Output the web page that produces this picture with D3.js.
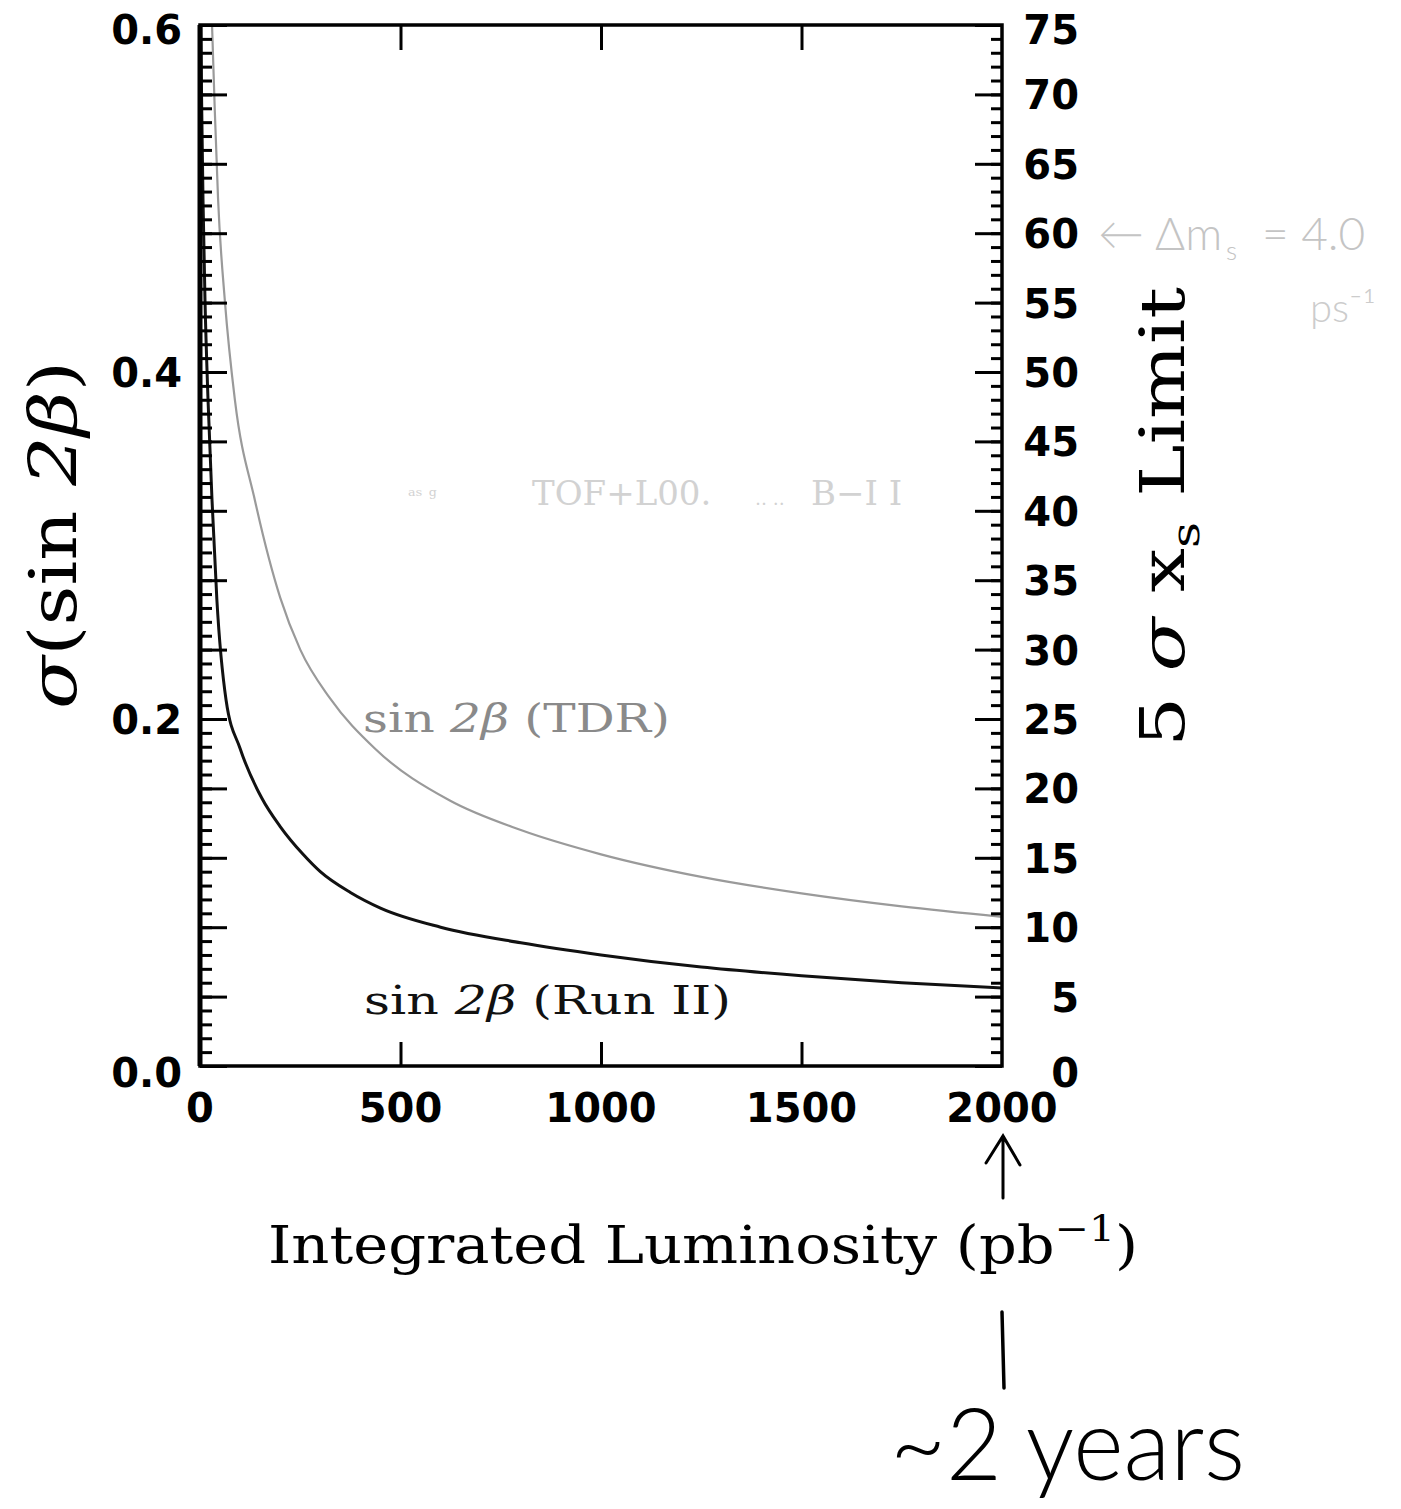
<!DOCTYPE html>
<html><head><meta charset="utf-8">
<script src="https://cdn.jsdelivr.net/npm/d3@7"></script>
<style>body{margin:0;background:#fff}</style>
</head><body>
<svg id="c" width="1401" height="1509"></svg>
<script>
// ---- data ----
const xTickValues = [0, 500, 1000, 1500, 2000];
const xTickLabels = ["0", "500", "1000", "1500", "2000"];
const leftTickValues = [0, 0.2, 0.4, 0.6];
const leftTickLabels = ["0.0", "0.2", "0.4", "0.6"];
const rightTickValues = [0, 5, 10, 15, 20, 25, 30, 35, 40, 45, 50, 55, 60, 65, 70, 75];
const rightTickLabels = ["0", "5", "10", "15", "20", "25", "30", "35", "40", "45", "50", "55", "60", "65", "70", "75"];

const lumRunII   = [2, 4, 7.5, 12.5, 20, 30, 42, 65, 100, 155, 200, 257, 300, 375, 450, 600, 800, 1000, 1250, 1500, 1750, 2000];
const sigmaRunII = [0.60, 0.557, 0.499, 0.441, 0.384, 0.326, 0.269, 0.211, 0.183, 0.154, 0.138, 0.122, 0.112, 0.100, 0.091, 0.080, 0.071, 0.064, 0.057, 0.052, 0.048, 0.045];

const lumTDR   = [30, 37, 45, 62, 87, 137, 200, 250, 324, 436, 623, 800, 1000, 1250, 1500, 1750, 2000];
const sigmaTDR = [0.60, 0.55, 0.50, 0.441, 0.384, 0.326, 0.270, 0.240, 0.212, 0.183, 0.153, 0.136, 0.122, 0.109, 0.0995, 0.092, 0.086];

// ---- layout ----
const svg = d3.select("#c");
const L = 200, R = 1002, T = 25, B = 1066;
const x = d3.scaleLinear().domain([0, 2000]).range([L, R]);
const y = d3.scaleLinear().domain([0, 0.6]).range([B, T]);
const yR = d3.scaleLinear().domain([0, 75]).range([B, T]);

const tickFont = "'DejaVu Sans', sans-serif";
const serif = "'DejaVu Serif', serif";

svg.append("defs").append("clipPath").attr("id", "clip")
  .append("rect").attr("x", L).attr("y", T).attr("width", R - L).attr("height", B - T);

// curves
const line = d3.line().x(d => x(d[0])).y(d => y(d[1])).curve(d3.curveMonotoneX);
svg.append("path").datum(lumTDR.map((l, i) => [l, sigmaTDR[i]]))
  .attr("d", line).attr("fill", "none").attr("stroke", "#9a9a9a").attr("stroke-width", 2.2)
  .attr("clip-path", "url(#clip)");
svg.append("path").datum(lumRunII.map((l, i) => [l, sigmaRunII[i]]))
  .attr("d", line).attr("fill", "none").attr("stroke", "#111").attr("stroke-width", 3)
  .attr("clip-path", "url(#clip)");

function styleTicks(g, w) {
  g.select(".domain").remove();
  g.selectAll("line").attr("stroke", "#000").attr("stroke-width", w);
  g.selectAll("text").remove();
}
const leftMinor = d3.range(0, 76).map(i => i * 0.008);
const leftMajor = d3.range(0, 16).map(i => i * 0.04);
svg.append("g").attr("transform", `translate(${L},0)`)
  .call(d3.axisRight(y).tickValues(leftMinor).tickSize(12).tickFormat(""))
  .call(g => styleTicks(g, 3));
svg.append("g").attr("transform", `translate(${L},0)`)
  .call(d3.axisRight(y).tickValues(leftMajor).tickSize(27).tickFormat(""))
  .call(g => styleTicks(g, 3));
svg.append("g").attr("transform", `translate(${R},0)`)
  .call(d3.axisLeft(yR).tickValues(d3.range(0, 76)).tickSize(11).tickFormat(""))
  .call(g => styleTicks(g, 3));
svg.append("g").attr("transform", `translate(${R},0)`)
  .call(d3.axisLeft(yR).tickValues(rightTickValues).tickSize(27).tickFormat(""))
  .call(g => styleTicks(g, 3));
svg.append("g").attr("transform", `translate(0,${B})`)
  .call(d3.axisTop(x).tickValues([500, 1000, 1500]).tickSize(24).tickFormat(""))
  .call(g => styleTicks(g, 3));
svg.append("g").attr("transform", `translate(0,${T})`)
  .call(d3.axisBottom(x).tickValues([500, 1000, 1500]).tickSize(25).tickFormat(""))
  .call(g => styleTicks(g, 3));

// frame
svg.append("rect").attr("x", L).attr("y", T).attr("width", R - L).attr("height", B - T)
  .attr("fill", "none").attr("stroke", "#000").attr("stroke-width", 3.5);
svg.append("line").attr("x1", L).attr("x2", L).attr("y1", T).attr("y2", B)
  .attr("stroke", "#000").attr("stroke-width", 5);

// tick labels
const lab = svg.append("g").attr("font-family", tickFont).attr("font-weight", "bold").attr("font-size", 40).attr("fill", "#000");
leftTickValues.forEach((v, i) => {
  lab.append("text").attr("x", L - 18).attr("y", y(v) + 15 + (v === 0 ? 6 : 0) + (v === 0.6 ? 4 : 0))
    .attr("text-anchor", "end").text(leftTickLabels[i]);
});
rightTickValues.forEach((v, i) => {
  lab.append("text").attr("x", 1079).attr("y", yR(v) + 15 + (v === 0 ? 6 : 0) + (v === 75 ? 4 : 0))
    .attr("text-anchor", "end").text(rightTickLabels[i]);
});
xTickValues.forEach((v, i) => {
  lab.append("text").attr("x", x(v)).attr("y", 1122)
    .attr("text-anchor", "middle").text(xTickLabels[i]);
});

// axis titles
const yl = svg.append("text").attr("transform", "translate(76,535) rotate(-90)")
  .attr("text-anchor", "middle").attr("font-family", serif).attr("font-size", 66)
  .attr("textLength", 348).attr("lengthAdjust", "spacingAndGlyphs");
yl.append("tspan").attr("font-style", "italic").text("σ");
yl.append("tspan").text("(sin ");
yl.append("tspan").attr("font-style", "italic").text("2β");
yl.append("tspan").text(")");

const yr = svg.append("text").attr("transform", "translate(1184,517) rotate(-90)")
  .attr("text-anchor", "middle").attr("font-family", serif).attr("font-size", 62)
  .attr("textLength", 460).attr("lengthAdjust", "spacingAndGlyphs");
yr.append("tspan").text("5 ");
yr.append("tspan").attr("font-style", "italic").text("σ");
yr.append("tspan").text(" x");
yr.append("tspan").attr("font-size", 40).attr("dy", 15).text("s");
yr.append("tspan").attr("dy", -15).text(" Limit");

const xl = svg.append("text").attr("x", 268).attr("y", 1263)
  .attr("font-family", serif).attr("font-size", 52)
  .attr("textLength", 870).attr("lengthAdjust", "spacingAndGlyphs");
xl.append("tspan").text("Integrated Luminosity (pb");
xl.append("tspan").attr("font-size", 36).attr("dy", -22).text("−1");
xl.append("tspan").attr("dy", 22).text(")");

// curve labels
function curveLabel(xp, yp, tail, color, len) {
  const t = svg.append("text").attr("x", xp).attr("y", yp).attr("font-family", serif)
    .attr("font-size", 40).attr("fill", color)
    .attr("textLength", len).attr("lengthAdjust", "spacingAndGlyphs");
  t.append("tspan").text("sin ");
  t.append("tspan").attr("font-style", "italic").text("2β");
  t.append("tspan").text(" " + tail);
}
curveLabel(363, 732, "(TDR)", "#8a8a8a", 307);
curveLabel(364, 1014, "(Run II)", "#111", 367);

// faint text in middle
const ft = svg.append("g").attr("font-family", serif).attr("font-size", 34).attr("fill", "#d2d2d2");
ft.append("text").attr("x", 408).attr("y", 503).attr("font-size", 20).text("ᵃˢ ᵍ");
ft.append("text").attr("x", 532).attr("y", 505).text("TOF+L00.");
ft.append("text").attr("x", 755).attr("y", 505).attr("font-size", 18).text("‥ ‥");
ft.append("text").attr("x", 811).attr("y", 505).text("B−I I");

// handwritten annotations
const hw = "'Lato', 'DejaVu Sans', sans-serif";
svg.append("text").attr("x", 1098).attr("y", 250).attr("font-family", hw).attr("font-weight", 300)
  .attr("font-size", 46).attr("fill", "#c4c4c4").text("← Δm");
svg.append("text").attr("x", 1226).attr("y", 260).attr("font-family", hw).attr("font-weight", 300)
  .attr("font-size", 26).attr("fill", "#c4c4c4").text("s");
svg.append("text").attr("x", 1262).attr("y", 250).attr("font-family", hw).attr("font-weight", 300)
  .attr("font-size", 46).attr("fill", "#c4c4c4").text("= 4.0");
svg.append("text").attr("x", 1310).attr("y", 322).attr("font-family", hw).attr("font-weight", 300)
  .attr("font-size", 40).attr("fill", "#cccccc").text("ps⁻¹");

// arrow under 2000
const ax = x(2000) + 1;
svg.append("path").attr("d", `M${ax},1198 L${ax},1136 M${ax - 17},1163 L${ax},1136 L${ax + 17},1165`)
  .attr("fill", "none").attr("stroke", "#000").attr("stroke-width", 3).attr("stroke-linecap", "round");
svg.append("path").attr("d", `M${ax - 1},1312 L${ax + 1},1388`)
  .attr("fill", "none").attr("stroke", "#000").attr("stroke-width", 3.5).attr("stroke-linecap", "round");
svg.append("text").attr("x", 890).attr("y", 1480).attr("font-family", hw).attr("font-weight", 300)
  .attr("font-size", 100).attr("fill", "#000")
  .attr("textLength", 355).attr("lengthAdjust", "spacingAndGlyphs").text("~2 years");
</script>
</body></html>
